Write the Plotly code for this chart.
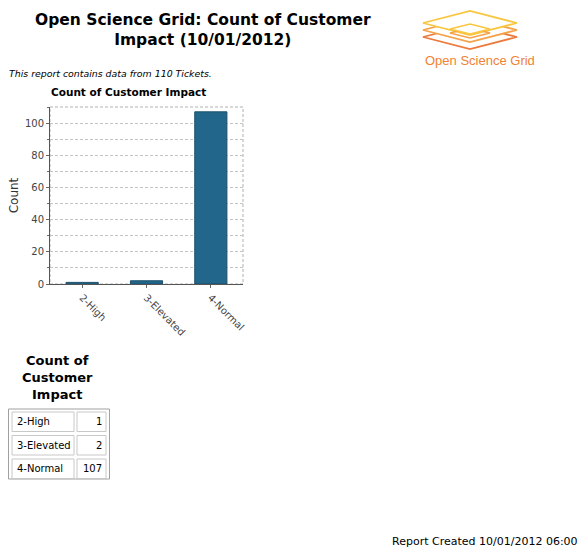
import plotly.graph_objects as go

# data
impact_levels = ["2-High", "3-Elevated", "4-Normal"]
ticket_counts = [1, 2, 107]
total_tickets = 110
report_date = "10/01/2012"
created_at = "10/01/2012 06:00"

W, H = 583, 559
# plot area in pixels (left, right, top, bottom)
PL, PR, PT, PB = 50, 243, 107, 284


def px(x):
    return (x - PL) / (PR - PL)


def py(y):
    return (PB - y) / (PB - PT)


def diamond(cx, cy, hw, hh):
    return "M {} {} L {} {} L {} {} L {} {} Z".format(
        px(cx - hw), py(cy), px(cx), py(cy - hh), px(cx + hw), py(cy), px(cx), py(cy + hh))


fig = go.Figure()
fig.add_trace(go.Bar(
    x=impact_levels,
    y=ticket_counts,
    width=0.5,
    marker=dict(color="#22678b", line=dict(color="#1b4f6a", width=1)),
    hoverinfo="x+y",
))

shapes = []
annotations = []

# plot outline (dashed, like JFreeChart)
shapes.append(dict(type="rect", xref="paper", yref="paper", x0=0, x1=1, y0=0, y1=1,
                   line=dict(color="#b0b0b0", width=1, dash="3px,2px"), layer="below"))

# page title
annotations.append(dict(text="<b>Open Science Grid: Count of Customer<br>Impact (%s)</b>" % report_date,
                        x=px(203), y=py(30), xref="paper", yref="paper", showarrow=False,
                        font=dict(family="DejaVu Sans", size=15.5, color="#000000"),
                        xanchor="center", yanchor="middle", align="center"))
annotations.append(dict(text="<i>This report contains data from %d Tickets.</i>" % total_tickets,
                        x=px(7), y=py(73), xref="paper", yref="paper", showarrow=False,
                        font=dict(family="DejaVu Sans", size=9.4, color="#000000"),
                        xanchor="left", yanchor="middle"))
# chart title
annotations.append(dict(text="<b>Count of Customer Impact</b>",
                        x=px(128), y=py(92), xref="paper", yref="paper", showarrow=False,
                        font=dict(family="DejaVu Sans", size=10.5, color="#000000"),
                        xanchor="center", yanchor="middle"))
# footer
annotations.append(dict(text="Report Created %s" % created_at,
                        x=px(580), y=py(541), xref="paper", yref="paper", showarrow=False,
                        font=dict(family="DejaVu Sans", size=11, color="#000000"),
                        xanchor="right", yanchor="middle"))

# table heading
annotations.append(dict(text="<b>Count of<br>Customer<br>Impact</b>",
                        x=px(57), y=py(377), xref="paper", yref="paper", showarrow=False,
                        font=dict(family="DejaVu Sans", size=13, color="#000000"),
                        xanchor="center", yanchor="middle", align="center"))

# table: outer frame then one row per category
shapes.append(dict(type="rect", xref="paper", yref="paper",
                   x0=px(8.5), x1=px(109.5), y0=py(409), y1=py(479),
                   line=dict(color="#a0a0a0", width=1)))
row_top = 412
row_h = 23.5
for i, (lvl, cnt) in enumerate(zip(impact_levels, ticket_counts)):
    y0 = row_top + i * row_h
    y1 = y0 + row_h - 4
    for cx0, cx1 in [(12, 74), (77, 106)]:
        shapes.append(dict(type="rect", xref="paper", yref="paper",
                           x0=px(cx0), x1=px(cx1), y0=py(y0), y1=py(y1),
                           line=dict(color="#c8c8c8", width=1)))
    annotations.append(dict(text=lvl, x=px(15), y=py((y0 + y1) / 2), xref="paper", yref="paper",
                            showarrow=False, xanchor="left", yanchor="middle",
                            font=dict(family="DejaVu Sans", size=10, color="#000000")))
    annotations.append(dict(text=str(cnt), x=px(103.5), y=py((y0 + y1) / 2), xref="paper", yref="paper",
                            showarrow=False, xanchor="right", yanchor="middle",
                            font=dict(family="DejaVu Sans", size=10, color="#000000")))

# OSG logo: stacked diamonds, bottom layer first, each one hides the one below
logo_layers = [(37, "#ec7a3c"), (30, "#f5a24a"), (23, "#f9c640")]
for cy, col in logo_layers:
    shapes.append(dict(type="path", xref="paper", yref="paper", path=diamond(470, cy, 47, 12),
                       fillcolor="white", line=dict(color=col, width=1.8)))
shapes.append(dict(type="path", xref="paper", yref="paper", path=diamond(470, 33, 20, 5),
                   line=dict(color="#f5a24a", width=1.6)))
shapes.append(dict(type="path", xref="paper", yref="paper", path=diamond(470, 29, 20, 5),
                   fillcolor="white", line=dict(color="#f9c640", width=1.6)))
annotations.append(dict(text="Open Science Grid", x=px(480), y=py(61), xref="paper", yref="paper",
                        showarrow=False, xanchor="center", yanchor="middle",
                        font=dict(family="Liberation Sans", size=13, color="#f08232")))

fig.update_layout(
    width=W, height=H,
    margin=dict(l=PL, r=W - PR, t=PT, b=H - PB, pad=0),
    paper_bgcolor="white", plot_bgcolor="white",
    showlegend=False,
    shapes=shapes,
    annotations=annotations,
    font=dict(family="DejaVu Sans", size=10, color="#444444"),
    xaxis=dict(
        automargin=False,
        showgrid=False, tickangle=45, ticks="outside", ticklen=3, tickcolor="#666666",
        showline=True, linecolor="#555555", linewidth=1,
        tickfont=dict(size=10, color="#444444"), zeroline=False,
    ),
    yaxis=dict(
        automargin=False,
        range=[0, 110], dtick=20, tick0=0,
        showgrid=True, gridcolor="#c4c4c4", griddash="3px,2px", gridwidth=1,
        minor=dict(dtick=10, showgrid=True, gridcolor="#c4c4c4", griddash="3px,2px",
                   ticks="outside", ticklen=2, tickcolor="#666666"),
        ticks="outside", ticklen=3, tickcolor="#666666",
        showline=True, linecolor="#555555", linewidth=1,
        zeroline=False,
        tickfont=dict(size=10, color="#444444"),
        title=dict(text="Count", font=dict(size=12, color="#333333"), standoff=3),
    ),
)

fig.write_html("out.html", config={"displayModeBar": False},
               post_script="document.body.style.margin='0px';")
